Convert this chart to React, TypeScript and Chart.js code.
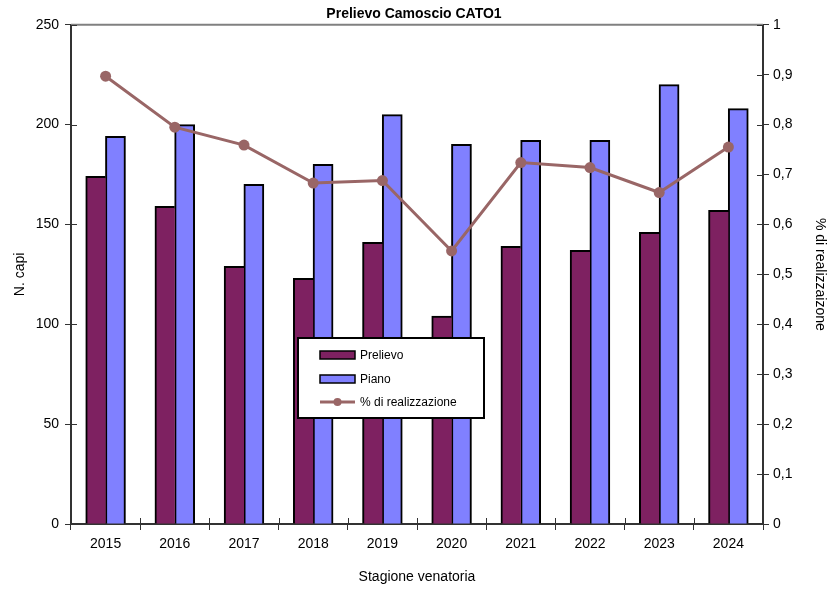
import React, { useEffect, useRef } from 'react';
import { Chart, registerables } from 'chart.js';

Chart.register(...registerables);

const years = ['2015', '2016', '2017', '2018', '2019', '2020', '2021', '2022', '2023', '2024'];
const prelievo = [174, 159, 129, 123, 141, 104, 139, 137, 146, 157];
const piano = [194, 200, 170, 180, 205, 190, 192, 192, 220, 208];
const realizzazione = [0.897, 0.795, 0.759, 0.683, 0.688, 0.547, 0.724, 0.714, 0.664, 0.755];

const COL_PRELIEVO = '#7E2161';
const COL_PIANO = '#8080FF';
const COL_LINE = '#996666';
const FONT = "'Liberation Sans', Arial, sans-serif";

const decorPlugin = {
  id: 'decor',
  afterDraw(chart: any) {
    const { ctx, chartArea, scales } = chart;
    const { left, right, top, bottom } = chartArea;
    ctx.save();
    // top frame line
    ctx.strokeStyle = '#808080';
    ctx.lineWidth = 2;
    ctx.beginPath();
    ctx.moveTo(left, top);
    ctx.lineTo(right, top);
    ctx.stroke();
    // inward tick marks
    ctx.strokeStyle = '#333';
    ctx.lineWidth = 1;
    ctx.beginPath();
    scales.y.ticks.forEach((_t: any, i: number) => {
      const y = Math.round(scales.y.getPixelForTick(i)) + 0.5;
      ctx.moveTo(left, y);
      ctx.lineTo(left + 6, y);
    });
    scales.y1.ticks.forEach((_t: any, i: number) => {
      const y = Math.round(scales.y1.getPixelForTick(i)) + 0.5;
      ctx.moveTo(right - 6, y);
      ctx.lineTo(right, y);
    });
    const n = years.length;
    for (let i = 0; i <= n; i++) {
      const x = Math.round(left + (i * (right - left)) / n) + 0.5;
      ctx.moveTo(x, bottom);
      ctx.lineTo(x, bottom - 6);
    }
    ctx.stroke();

    // legend box
    const bx = 298, by = 338, bw = 186, bh = 80;
    ctx.fillStyle = '#fff';
    ctx.fillRect(bx, by, bw, bh);
    ctx.strokeStyle = '#000';
    ctx.lineWidth = 2;
    ctx.strokeRect(bx, by, bw, bh);

    const items = chart.data.datasets;
    const rows = [355, 379, 402];
    ctx.font = `12px ${FONT}`;
    ctx.textBaseline = 'middle';
    ctx.textAlign = 'left';
    items.forEach((ds: any, i: number) => {
      const y = rows[i];
      if (ds.type === 'line') {
        ctx.strokeStyle = ds.borderColor;
        ctx.lineWidth = 3;
        ctx.beginPath();
        ctx.moveTo(320, y);
        ctx.lineTo(355, y);
        ctx.stroke();
        ctx.fillStyle = ds.borderColor;
        ctx.beginPath();
        ctx.arc(337.5, y, 4, 0, Math.PI * 2);
        ctx.fill();
      } else {
        ctx.fillStyle = ds.backgroundColor;
        ctx.fillRect(320, y - 4, 35, 8);
        ctx.strokeStyle = '#000';
        ctx.lineWidth = 1.5;
        ctx.strokeRect(320, y - 4, 35, 8);
      }
      ctx.fillStyle = '#000';
      ctx.fillText(ds.label, 360, y + 0.5);
    });
    ctx.restore();
  },
};

export default function App() {
  const ref = useRef<HTMLCanvasElement>(null);

  useEffect(() => {
    document.body.style.margin = '0';
    Chart.defaults.font.family = FONT;
    const canvas = ref.current!;
    const tickFont = { size: 14, family: FONT };
    const chart = new Chart(canvas, {
      type: 'bar',
      data: {
        labels: years,
        datasets: [
          {
            type: 'bar',
            label: 'Prelievo',
            data: prelievo,
            backgroundColor: COL_PRELIEVO,
            borderColor: '#000',
            borderWidth: { top: 2, left: 2, right: 0, bottom: 0 },
            borderSkipped: false,
            inflateAmount: 0.5,
            yAxisID: 'y',
            order: 2,
            categoryPercentage: 0.57,
            barPercentage: 1,
          } as any,
          {
            type: 'bar',
            label: 'Piano',
            data: piano,
            backgroundColor: COL_PIANO,
            borderColor: '#000',
            borderWidth: { top: 2, left: 2, right: 2, bottom: 0 },
            borderSkipped: false,
            inflateAmount: 0.5,
            yAxisID: 'y',
            order: 2,
            categoryPercentage: 0.57,
            barPercentage: 1,
          } as any,
          {
            type: 'line',
            label: '% di realizzazione',
            data: realizzazione,
            borderColor: COL_LINE,
            backgroundColor: COL_LINE,
            borderWidth: 3,
            pointRadius: 5.5,
            pointBackgroundColor: COL_LINE,
            pointBorderWidth: 0,
            yAxisID: 'y1',
            order: 1,
          } as any,
        ],
      },
      options: {
        animation: false,
        responsive: false,
        maintainAspectRatio: false,
        devicePixelRatio: 1,
        layout: { padding: 0 },
        plugins: {
          legend: { display: false },
          tooltip: { enabled: false },
          title: {
            display: true,
            text: 'Prelievo Camoscio CATO1',
            color: '#000',
            font: { size: 14, weight: 'bold', family: FONT },
            padding: { top: 6, bottom: 2 },
          },
        },
        scales: {
          x: {
            grid: { drawOnChartArea: false, tickLength: 6, color: '#333', offset: true },
            border: { color: '#333', width: 2 },
            ticks: { font: tickFont, color: '#000', padding: 6 },
            title: {
              display: true,
              text: 'Stagione venatoria',
              color: '#000',
              font: { size: 14, family: FONT },
              padding: { top: 4, bottom: 4 },
            },
            afterFit(s: any) {
              s.height = 66;
            },
          },
          y: {
            position: 'left',
            min: 0,
            max: 250,
            grid: { drawOnChartArea: false, tickLength: 6, color: '#333' },
            border: { color: '#333', width: 2 },
            ticks: { stepSize: 50, font: tickFont, color: '#000', padding: 6 },
            title: {
              display: true,
              text: 'N. capi',
              color: '#000',
              font: { size: 14, family: FONT },
              padding: { top: 12, bottom: 0 },
            },
            afterFit(s: any) {
              s.width = 71;
            },
          },
          y1: {
            position: 'right',
            min: 0,
            max: 1,
            grid: { drawOnChartArea: false, tickLength: 6, color: '#333' },
            border: { color: '#333', width: 2 },
            ticks: {
              stepSize: 0.1,
              font: tickFont,
              color: '#000',
              padding: 4,
              callback: (v: any) => String(Math.round(Number(v) * 10) / 10).replace('.', ','),
            },
            title: {
              display: true,
              text: '% di realizzaizone',
              color: '#000',
              font: { size: 14, family: FONT },
              padding: { top: 0, bottom: 0 },
            },
            afterFit(s: any) {
              s.width = 65;
            },
          },
        },
      },
      plugins: [decorPlugin],
    });
    return () => chart.destroy();
  }, []);

  return <canvas ref={ref} width={828} height={590} style={{ display: 'block' }} />;
}
